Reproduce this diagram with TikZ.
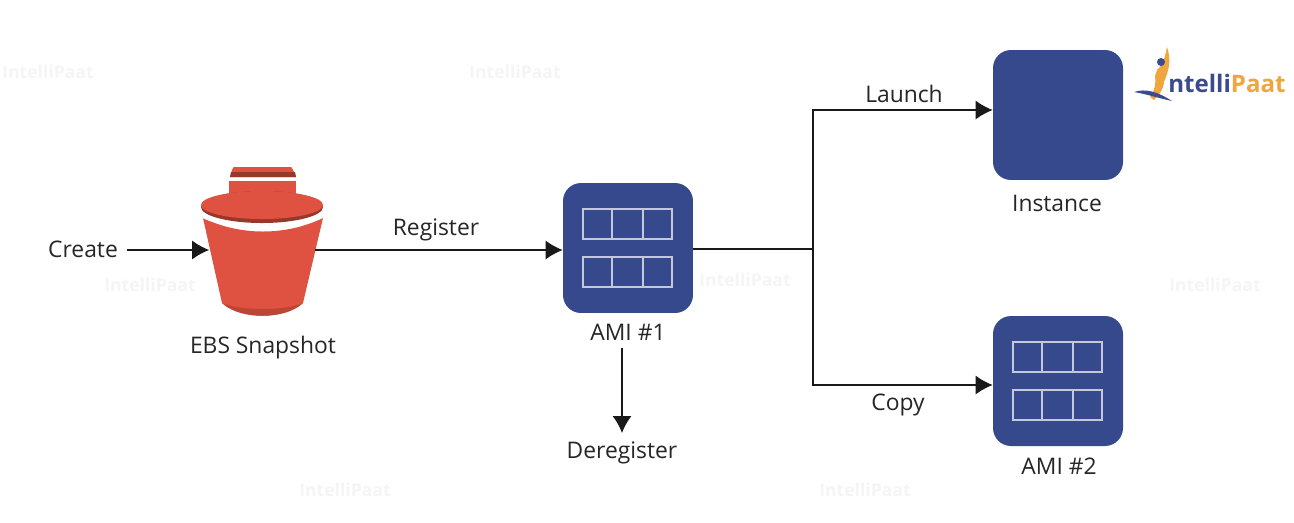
\documentclass[tikz,border=0pt]{standalone}
\usepackage{fontspec}
\setmainfont{Open Sans}
\usetikzlibrary{arrows.meta,positioning,calc}
\definecolor{amiblue}{HTML}{36498C}
\definecolor{bucketred}{HTML}{DF5140}
\definecolor{bucketdark}{HTML}{96382A}
\definecolor{logoorange}{HTML}{F0A63C}
\definecolor{logoblue}{HTML}{3C4A8E}
\tikzset{
	amibox/.style={draw=none,fill=amiblue,rounded corners=0.36cm,minimum size=2.6cm,inner sep=0pt},
	lbl/.style={font=\fontsize{13}{15}\selectfont,text=black!85,inner sep=0pt},
	conn/.style={draw=black!90,line width=0.8pt},
	arr/.style={conn,-{Latex[length=0.34cm,width=0.38cm]}},
	cell/.style={draw=white!70!amiblue,line width=1.1pt},
	wmark/.style={font=\bfseries\fontsize{10}{12}\selectfont,text=black!4,inner sep=0pt}
}
\newcommand{\amicells}[1]{% two rows of three cells inside box #1
	\foreach \rowy in {-24,24}{
		\draw[cell] ($(#1)+(-45,\rowy-15)$) rectangle ($(#1)+(44,\rowy+15)$);
		\foreach \colx in {-16,15}
			\draw[cell] ($(#1)+(\colx,\rowy-15)$) -- ($(#1)+(\colx,\rowy+15)$);
	}
}
\begin{document}
\begin{tikzpicture}[x=0.02cm,y=-0.02cm]
	\useasboundingbox[fill=white] (0,0) rectangle (1294,522);
	% faint watermarks
	\foreach \wx/\wy/\wn in {48/72/a,515/72/b,150/285/d,745/280/e,1215/285/f,345/490/g,865/490/h}
		\node[wmark] (wm\wn) at (\wx,\wy) {IntelliPaat};
	% bucket
	\fill[bucketred] (203,218) .. controls (240,236) and (286,236) .. (323,218) -- (303,303)
		.. controls (285,320) and (240,320) .. (222,303) -- cycle;
	\fill[bucketred!85!black] (222,303) .. controls (240,320) and (285,320) .. (303,303)
		.. controls (285,311) and (240,311) .. cycle;
	\fill[bucketred] (229,181) rectangle (296,200);
	\fill[bucketdark] (262,207) ellipse (61 and 16);
	\fill[bucketred] (262,205) ellipse (61 and 14);
	\fill[bucketred] (230,177) -- (232,170) .. controls (233,167) .. (237,167) -- (288,167)
		.. controls (292,167) .. (293,170) -- (296,177) -- cycle;
	\fill[bucketdark] (230,177) -- (231,172) -- (295,172) -- (296,177) -- cycle;
	\draw[white,line width=1.5pt] (201,216) .. controls (238,232) and (287,232) .. (324,216);
	\node[minimum width=2.1cm,minimum height=2.2cm,inner sep=0pt] (snapshot) at (262,250) {};
	% boxes
	\node[amibox] (ami1) at (628,248) {};
	\node[amibox] (instance) at (1058,115) {};
	\node[amibox] (ami2) at (1058,381) {};
	\amicells{ami1}
	\amicells{ami2}
	% labels
	\node[lbl] (create) at (83,249) {Create};
	\node[lbl] (register) at (436,230) {Register};
	\node[lbl] (ebs) at (263,348) {EBS Snapshot};
	\node[lbl] (ami1lbl) at (628,332) {AMI \#1};
	\node[lbl] (deregister) at (622,453) {Deregister};
	\node[lbl] (launch) at (904,94) {Launch};
	\node[lbl] (instlbl) at (1057,203) {Instance};
	\node[lbl] (copy) at (898,405) {Copy};
	\node[lbl] (ami2lbl) at (1059,466) {AMI \#2};
	% connectors
	\coordinate (fork) at (813,249);
	\coordinate (createout) at (127,250);
	\coordinate (dropout) at (622,348);
	\draw[arr] (createout) -- (snapshot.west |- createout);
	\draw[arr] (snapshot.east |- createout) -- (ami1.west |- createout);
	\draw[conn] (ami1.east |- fork) -- (fork);
	\draw[arr] (fork) |- (instance.west |- 0,110);
	\draw[arr] (fork) |- (ami2.west |- 0,385);
	\draw[arr] (dropout) -- (dropout |- 0,433);
	% logo
	\fill[logoorange] (1167,47) .. controls (1172,62) and (1168,72) .. (1164,82)
		.. controls (1163,90) and (1160,94) .. (1154,100) -- (1150,97)
		.. controls (1155,90) and (1156,84) .. (1155,76) -- (1157,70)
		.. controls (1162,66) and (1165,58) .. (1167,47) -- cycle;
	\fill[logoblue] (1161,62) circle (4);
	\fill[logoblue] (1134,92) .. controls (1146,88) and (1158,92) .. (1172,101)
		.. controls (1158,98) and (1146,94) .. cycle;
	\node[inner sep=0pt,anchor=west,font=\bfseries\fontsize{13.7}{15}\selectfont,text=logoblue] (logon) at (1168,83)
		{ntelli\textcolor{logoorange}{Paat}};
\end{tikzpicture}
\end{document}
